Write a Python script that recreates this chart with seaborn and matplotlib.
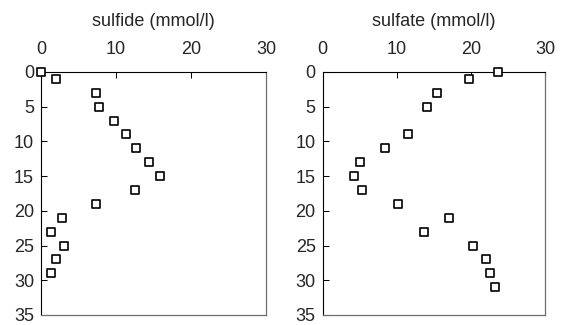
import matplotlib
matplotlib.use("Agg")
import matplotlib.pyplot as plt
import seaborn as sns
import pandas as pd

sulfide_depth = [0, 1, 3, 5, 7, 9, 11, 13, 15, 17, 19, 21, 23, 25, 27, 29]
sulfide_conc = [0.0, 2.0, 7.3, 7.7, 9.7, 11.3, 12.7, 14.4, 15.9, 12.5, 7.3, 2.8, 1.3, 3.1, 2.0, 1.3]

sulfate_depth = [0, 1, 3, 5, 9, 11, 13, 15, 17, 19, 21, 23, 25, 27, 29, 31]
sulfate_conc = [23.7, 19.7, 15.4, 14.05, 11.5, 8.4, 5.0, 4.2, 5.25, 10.2, 17.1, 13.7, 20.25, 22.0, 22.6, 23.2]

titles = ["sulfide (mmol/l)", "sulfate (mmol/l)"]
x_ticks = [0, 10, 20, 30]
y_ticks = [0, 5, 10, 15, 20, 25, 30, 35]

sns.set_style("white")
plt.rcParams['font.family'] = ['Liberation Sans', 'DejaVu Sans']

fig = plt.figure(figsize=(5.66, 3.25), dpi=100)
positions = [[0.0724, 0.0308, 0.3975, 0.7477], [0.5701, 0.0308, 0.3928, 0.7477]]
datasets = [
    pd.DataFrame({"conc": sulfide_conc, "depth": sulfide_depth}),
    pd.DataFrame({"conc": sulfate_conc, "depth": sulfate_depth}),
]

for pos, df, title in zip(positions, datasets, titles):
    ax = fig.add_axes(pos)
    sns.scatterplot(data=df, x="conc", y="depth", ax=ax, marker="s", s=32,
                    facecolor="white", edgecolor="black", linewidth=1.2, clip_on=False, zorder=5)
    ax.set_xlim(0, 30)
    ax.set_ylim(35, 0)
    ax.set_xticks(x_ticks)
    ax.set_yticks(y_ticks)
    ax.xaxis.tick_top()
    ax.xaxis.set_label_position("top")
    ax.set_xlabel(title, fontsize=13, labelpad=11)
    ax.set_ylabel("")
    ax.tick_params(axis="both", direction="in", length=4, width=0.75, labelsize=13,
                   color="black")
    ax.tick_params(axis="x", pad=10)
    ax.tick_params(axis="y", pad=5)
    ax.tick_params(axis="y", right=False, left=True)
    ax.tick_params(axis="x", bottom=False, top=True)
    for side in ["left", "top"]:
        ax.spines[side].set_color("black")
        ax.spines[side].set_linewidth(0.8)
    for side in ["right", "bottom"]:
        ax.spines[side].set_color("#6e6e6e")
        ax.spines[side].set_linewidth(0.9)
    ax.grid(False)

fig.savefig("out.png", dpi=100)
